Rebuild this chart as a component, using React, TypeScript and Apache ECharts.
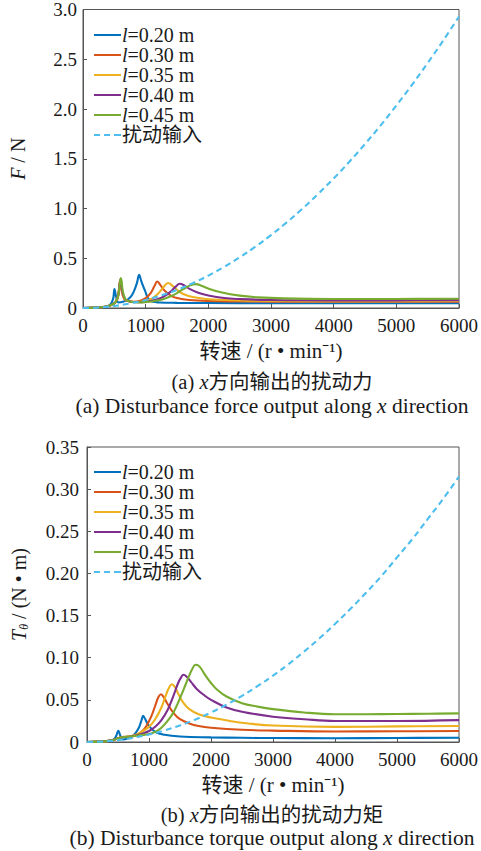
import React, { useEffect, useRef } from "react";
import * as echarts from "echarts";

const FONT = '"Liberation Serif", "Times New Roman", "Noto Sans CJK SC", serif';
const TXT = "#1a1a1a";
const AX = "#555555";

const seriesNames = ["l=0.20 m", "l=0.30 m", "l=0.35 m", "l=0.40 m", "l=0.45 m", "扰动输入"];
const colors = ["#0072BD", "#D95319", "#EDB120", "#7E2F8E", "#77AC30", "#4DBEEE"];
const xTicks = [0, 1000, 2000, 3000, 4000, 5000, 6000];

// ---------- (a) Force F / N ----------
const fBlueRpm = [0, 200, 350, 430, 480, 502, 530, 568, 650, 708, 770, 812, 860, 896, 930, 986, 1065, 1224, 1500, 2000, 3000, 4000, 5000, 6000];
const fBlue = [0, 0.004, 0.012, 0.03, 0.09, 0.19, 0.11, 0.055, 0.065, 0.083, 0.12, 0.167, 0.25, 0.334, 0.27, 0.18, 0.076, 0.056, 0.052, 0.05, 0.048, 0.047, 0.047, 0.048];

const fRedRpm = [0, 200, 350, 450, 520, 560, 592, 620, 660, 720, 800, 900, 1000, 1080, 1140, 1184, 1230, 1300, 1400, 1500, 1700, 2000, 2500, 3000, 4000, 5000, 6000];
const fRed = [0, 0.004, 0.013, 0.03, 0.06, 0.12, 0.27, 0.16, 0.09, 0.07, 0.062, 0.07, 0.1, 0.15, 0.22, 0.267, 0.235, 0.175, 0.125, 0.1, 0.08, 0.07, 0.066, 0.064, 0.063, 0.063, 0.064];

const fYellowRpm = [0, 200, 350, 450, 520, 560, 596, 625, 665, 720, 800, 900, 1000, 1100, 1200, 1280, 1359, 1420, 1500, 1600, 1750, 2000, 2500, 3000, 4000, 5000, 6000];
const fYellow = [0, 0.004, 0.013, 0.03, 0.06, 0.12, 0.28, 0.16, 0.09, 0.07, 0.06, 0.062, 0.072, 0.095, 0.145, 0.205, 0.251, 0.228, 0.182, 0.14, 0.11, 0.088, 0.076, 0.071, 0.069, 0.069, 0.07];

const fPurpleRpm = [0, 200, 350, 450, 520, 560, 600, 630, 670, 720, 800, 900, 1000, 1100, 1200, 1300, 1400, 1480, 1544, 1620, 1700, 1850, 2000, 2250, 2500, 3000, 4000, 5000, 6000];
const fPurple = [0, 0.004, 0.013, 0.03, 0.06, 0.12, 0.29, 0.16, 0.09, 0.07, 0.06, 0.058, 0.063, 0.073, 0.09, 0.12, 0.165, 0.215, 0.244, 0.225, 0.192, 0.15, 0.125, 0.1, 0.09, 0.08, 0.076, 0.077, 0.079];

const fGreenRpm = [0, 200, 350, 450, 520, 560, 605, 635, 675, 720, 800, 900, 1000, 1100, 1200, 1300, 1400, 1500, 1600, 1700, 1800, 1900, 2000, 2200, 2500, 2800, 3200, 4000, 5000, 6000];
const fGreen = [0, 0.004, 0.013, 0.03, 0.06, 0.12, 0.3, 0.17, 0.09, 0.07, 0.06, 0.057, 0.06, 0.066, 0.077, 0.094, 0.118, 0.15, 0.19, 0.225, 0.24, 0.222, 0.195, 0.158, 0.124, 0.107, 0.097, 0.091, 0.091, 0.093];

const inputRpm = [0, 250, 500, 750, 1000, 1250, 1500, 1750, 2000, 2250, 2500, 2750, 3000, 3250, 3500, 3750, 4000, 4250, 4500, 4750, 5000, 5250, 5500, 5750, 6000];
const fInput = [0, 0.005, 0.02, 0.046, 0.081, 0.127, 0.183, 0.249, 0.326, 0.412, 0.509, 0.616, 0.733, 0.86, 0.997, 1.145, 1.302, 1.47, 1.648, 1.836, 2.035, 2.243, 2.462, 2.69, 2.93];

const fTicks = [0, 0.5, 1.0, 1.5, 2.0, 2.5, 3.0];

// ---------- (b) Torque T / (N·m) ----------
const tBlueRpm = [0, 200, 350, 430, 470, 505, 540, 580, 650, 750, 830, 880, 905, 940, 1000, 1100, 1250, 1500, 2000, 2500, 3000, 4000, 5000, 6000];
const tBlue = [0, 0.0004, 0.0013, 0.003, 0.007, 0.0134, 0.007, 0.003, 0.004, 0.008, 0.016, 0.026, 0.031, 0.027, 0.019, 0.012, 0.0085, 0.0065, 0.0055, 0.005, 0.0047, 0.0045, 0.0048, 0.0051];

const tRedRpm = [0, 200, 350, 450, 530, 596, 650, 750, 862, 950, 1040, 1100, 1150, 1192, 1240, 1300, 1400, 1500, 1650, 1800, 2000, 2500, 3000, 4000, 5000, 6000];
const tRed = [0, 0.0004, 0.0013, 0.003, 0.005, 0.0063, 0.0055, 0.007, 0.011, 0.018, 0.031, 0.043, 0.053, 0.0567, 0.053, 0.045, 0.034, 0.027, 0.022, 0.019, 0.017, 0.0145, 0.0135, 0.0125, 0.0127, 0.013];

const tYellowRpm = [0, 200, 350, 450, 530, 600, 700, 800, 900, 1000, 1100, 1200, 1260, 1320, 1368, 1420, 1480, 1550, 1650, 1800, 2000, 2300, 2600, 3000, 4000, 5000, 6000];
const tYellow = [0, 0.0004, 0.0013, 0.003, 0.005, 0.006, 0.007, 0.009, 0.013, 0.018, 0.027, 0.041, 0.053, 0.064, 0.0686, 0.065, 0.056, 0.047, 0.039, 0.033, 0.029, 0.025, 0.022, 0.0195, 0.018, 0.0185, 0.019];

const tPurpleRpm = [0, 200, 350, 450, 530, 600, 700, 800, 900, 1000, 1100, 1200, 1300, 1400, 1470, 1520, 1553, 1600, 1680, 1770, 1900, 2000, 2250, 2500, 3000, 3500, 4000, 5000, 6000];
const tPurple = [0, 0.0004, 0.0013, 0.003, 0.005, 0.006, 0.0065, 0.008, 0.01, 0.013, 0.018, 0.026, 0.038, 0.056, 0.07, 0.077, 0.0797, 0.078, 0.071, 0.063, 0.055, 0.05, 0.041, 0.036, 0.03, 0.027, 0.025, 0.025, 0.026];

const tGreenRpm = [0, 200, 350, 450, 530, 600, 700, 800, 900, 1000, 1100, 1200, 1300, 1400, 1500, 1600, 1650, 1700, 1750, 1800, 1850, 1900, 2000, 2100, 2250, 2500, 2750, 3000, 3500, 4000, 4500, 5000, 5500, 6000];
const tGreen = [0, 0.0004, 0.0013, 0.003, 0.005, 0.006, 0.0065, 0.0075, 0.0085, 0.0095, 0.012, 0.017, 0.025, 0.036, 0.052, 0.07, 0.079, 0.087, 0.0916, 0.0905, 0.086, 0.08, 0.07, 0.062, 0.054, 0.046, 0.042, 0.039, 0.035, 0.033, 0.033, 0.0332, 0.0335, 0.034];

const tInput = [0, 0.0005, 0.0022, 0.0049, 0.0088, 0.0137, 0.0197, 0.0268, 0.035, 0.0443, 0.0547, 0.0662, 0.0788, 0.0924, 0.1072, 0.123, 0.14, 0.158, 0.177, 0.197, 0.219, 0.241, 0.265, 0.289, 0.315];

const tTicks = [0, 0.05, 0.1, 0.15, 0.2, 0.25, 0.3, 0.35];

const topSets = [
  [fBlueRpm, fBlue],
  [fRedRpm, fRed],
  [fYellowRpm, fYellow],
  [fPurpleRpm, fPurple],
  [fGreenRpm, fGreen],
  [inputRpm, fInput],
];
const bottomSets = [
  [tBlueRpm, tBlue],
  [tRedRpm, tRed],
  [tYellowRpm, tYellow],
  [tPurpleRpm, tPurple],
  [tGreenRpm, tGreen],
  [inputRpm, tInput],
];

const SOLID_ICON = "path://M0,0H27V2H0Z";
const DASH_ICON = "path://M0,0H6V2H0Z M10,0H16V2H10Z M20,0H27V2H20Z";

function mkSeries(sets: number[][][], idx: number) {
  return sets.map(([xs, ys], i) => ({
    type: "line",
    name: seriesNames[i],
    xAxisIndex: idx,
    yAxisIndex: idx,
    data: xs.map((x, k) => [x, ys[k]]),
    symbol: "none",
    smooth: 0.4,
    clip: true,
    lineStyle: { color: colors[i], width: 2.1, type: i === 5 ? [6, 4] : "solid" },
    itemStyle: { color: colors[i] },
    z: i === 5 ? 3 : 2,
  }));
}

const tickStyle = { fontSize: 19, fontFamily: FONT, color: TXT };
const richI = { fontStyle: "italic", fontFamily: FONT, fontSize: 20, color: TXT };

function xAxis(gridIndex: number) {
  return {
    type: "value",
    gridIndex,
    min: xTicks[0],
    max: xTicks[xTicks.length - 1],
    interval: 1000,
    name: "转速 / (r • min⁻¹)",
    nameLocation: "middle",
    nameGap: 32,
    nameTextStyle: { fontSize: 21, fontFamily: FONT, color: TXT },
    axisLine: { show: true, lineStyle: { color: AX, width: 1 } },
    axisTick: { show: true, inside: true, length: 4, lineStyle: { color: AX } },
    axisLabel: { ...tickStyle, margin: 8, formatter: (v: number) => String(v) },
    splitLine: { show: false },
  };
}

function legend(top: number) {
  return {
    orient: "vertical",
    left: 89,
    top,
    itemWidth: 27,
    itemHeight: 2,
    itemGap: 0,
    selectedMode: false,
    data: seriesNames.map((n, i) => ({
      name: n,
      icon: i === 5 ? DASH_ICON : SOLID_ICON,
      itemStyle: { color: colors[i], borderWidth: 0 },
    })),
    formatter: (n: string) => (n.startsWith("l=") ? "{i|l}" + n.slice(1) : n),
    textStyle: {
      fontSize: 20,
      lineHeight: 20,
      fontFamily: FONT,
      color: TXT,
      padding: [0, 0, 0, -4],
      rich: { i: { ...richI, fontSize: 20, lineHeight: 20 } },
    },
  };
}

function caption(y: number, text: string, size: number) {
  return {
    type: "text",
    x: 272,
    y,
    style: {
      text,
      fontSize: size,
      fontFamily: FONT,
      fill: TXT,
      align: "center",
      verticalAlign: "middle",
      rich: { i: { fontStyle: "italic", fontSize: size, fontFamily: FONT, fill: TXT, color: TXT } },
    },
  };
}

export default function App() {
  const ref = useRef<HTMLDivElement>(null);
  useEffect(() => {
    document.body.style.margin = "0";
    if (!ref.current) return;
    const chart = echarts.init(ref.current, null, { renderer: "svg" });
    chart.setOption({
      animation: false,
      backgroundColor: "#ffffff",
      grid: [
        { left: 83, top: 9, width: 378, height: 299, show: true, borderColor: AX, borderWidth: 1, containLabel: false },
        { left: 86, top: 447, width: 376, height: 295, show: true, borderColor: AX, borderWidth: 1, containLabel: false },
      ],
      xAxis: [xAxis(0), xAxis(1)],
      yAxis: [
        {
          type: "value",
          gridIndex: 0,
          min: fTicks[0],
          max: fTicks[fTicks.length - 1],
          interval: 0.5,
          name: "{i|F} / N",
          nameLocation: "middle",
          nameGap: 55,
          nameTextStyle: { fontSize: 20, fontFamily: FONT, color: TXT, rich: { i: richI } },
          axisLine: { show: true, lineStyle: { color: AX, width: 1 } },
          axisTick: { show: true, inside: true, length: 4, lineStyle: { color: AX } },
          axisLabel: { ...tickStyle, margin: 6, formatter: (v: number) => (v === 0 ? "0" : v.toFixed(1)) },
          splitLine: { show: false },
        },
        {
          type: "value",
          gridIndex: 1,
          min: tTicks[0],
          max: tTicks[tTicks.length - 1],
          interval: 0.05,
          name: "{i|T}{s|θ} / (N • m)",
          nameLocation: "middle",
          nameGap: 57,
          nameTextStyle: {
            fontSize: 20,
            fontFamily: FONT,
            color: TXT,
            lineHeight: 22,
            rich: {
              i: { ...richI, lineHeight: 22 },
              s: { fontStyle: "italic", fontFamily: FONT, fontSize: 12, lineHeight: 12, verticalAlign: "bottom", color: TXT },
            },
          },
          axisLine: { show: true, lineStyle: { color: AX, width: 1 } },
          axisTick: { show: true, inside: true, length: 4, lineStyle: { color: AX } },
          axisLabel: { ...tickStyle, margin: 8, formatter: (v: number) => (v === 0 ? "0" : v.toFixed(2)) },
          splitLine: { show: false },
        },
      ],
      legend: [legend(20), legend(457)],
      series: [...mkSeries(topSets, 0), ...mkSeries(bottomSets, 1)],
      graphic: [
        caption(382, "(a) {i|x}方向输出的扰动力", 20.5),
        caption(406, "(a) Disturbance force output along {i|x} direction", 21.5),
        caption(815, "(b) {i|x}方向输出的扰动力矩", 20.5),
        caption(838, "(b) Disturbance torque output along {i|x} direction", 21.5),
      ],
    });
    return () => chart.dispose();
  }, []);
  return <div ref={ref} style={{ width: 481, height: 851 }} />;
}
